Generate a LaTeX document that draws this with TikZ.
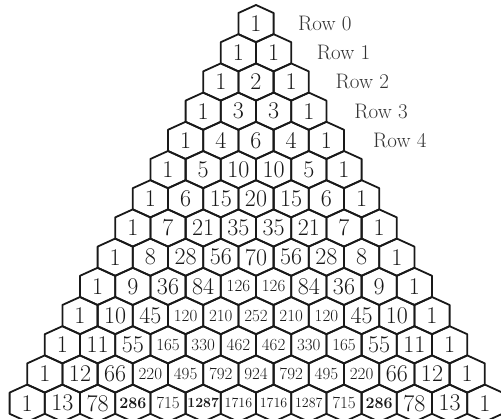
\documentclass[tikz,border=0pt]{standalone}
\usepackage{tikz}

\tikzset{
  hexline/.style={line width=1.8pt, line join=round, draw=black!90},
  numtext/.style={font=\fontsize{24}{24}\selectfont, inner sep=0pt, text=black!90},
  rowlabel/.style={font=\fontsize{21}{21}\selectfont, anchor=west, inner sep=0pt, text=black!80}
}
% font size by number of digits, bold for a few entries
\newcommand{\cellnum}[2]{%
  \ifnum#1>999 \fontsize{14}{14}\selectfont
  \else\ifnum#1>99 \fontsize{17}{17}\selectfont\fi\fi
  \ifnum#1=286 \fontsize{16}{16}\selectfont\bfseries\fi
  \ifnum#1=1287 \ifnum#2<7 \bfseries\fi\fi
  #1}

\begin{document}
\begin{tikzpicture}[x=1pt, y=1pt]
  \useasboundingbox (0,0) rectangle (501,419);
  % Pascal triangle, rows 0 to 13
  \foreach \r/\row in {
      0/{1}, 1/{1,1}, 2/{1,2,1}, 3/{1,3,3,1}, 4/{1,4,6,4,1},
      5/{1,5,10,10,5,1}, 6/{1,6,15,20,15,6,1},
      7/{1,7,21,35,35,21,7,1}, 8/{1,8,28,56,70,56,28,8,1},
      9/{1,9,36,84,126,126,84,36,9,1},
      10/{1,10,45,120,210,252,210,120,45,10,1},
      11/{1,11,55,165,330,462,462,330,165,55,11,1},
      12/{1,12,66,220,495,792,924,792,495,220,66,12,1},
      13/{1,13,78,286,715,1287,1716,1716,1287,715,286,78,13,1}}{
    \pgfmathsetmacro\cy{395.4-29.2*\r}
    \foreach \v [count=\k from 0] in \row {
      \pgfmathsetmacro\cx{256+35.2*(\k-\r/2)}
      \coordinate (h\r-\k) at (\cx,\cy);
      \draw[hexline] (h\r-\k) ++(0,18.6) -- ++(-17.6,-8) -- ++(0,-21.2)
        -- ++(17.6,-8) -- ++(17.6,8) -- ++(0,21.2) -- cycle;
      \node[numtext] (n\r-\k) at (h\r-\k) {\cellnum{\v}{\k}};
    }
    % row labels on the right
    \ifnum\r<5
      \node[rowlabel] (row\r) at (298+18.75*\r,\cy) {Row \r};
    \fi
  }
\end{tikzpicture}
\end{document}
